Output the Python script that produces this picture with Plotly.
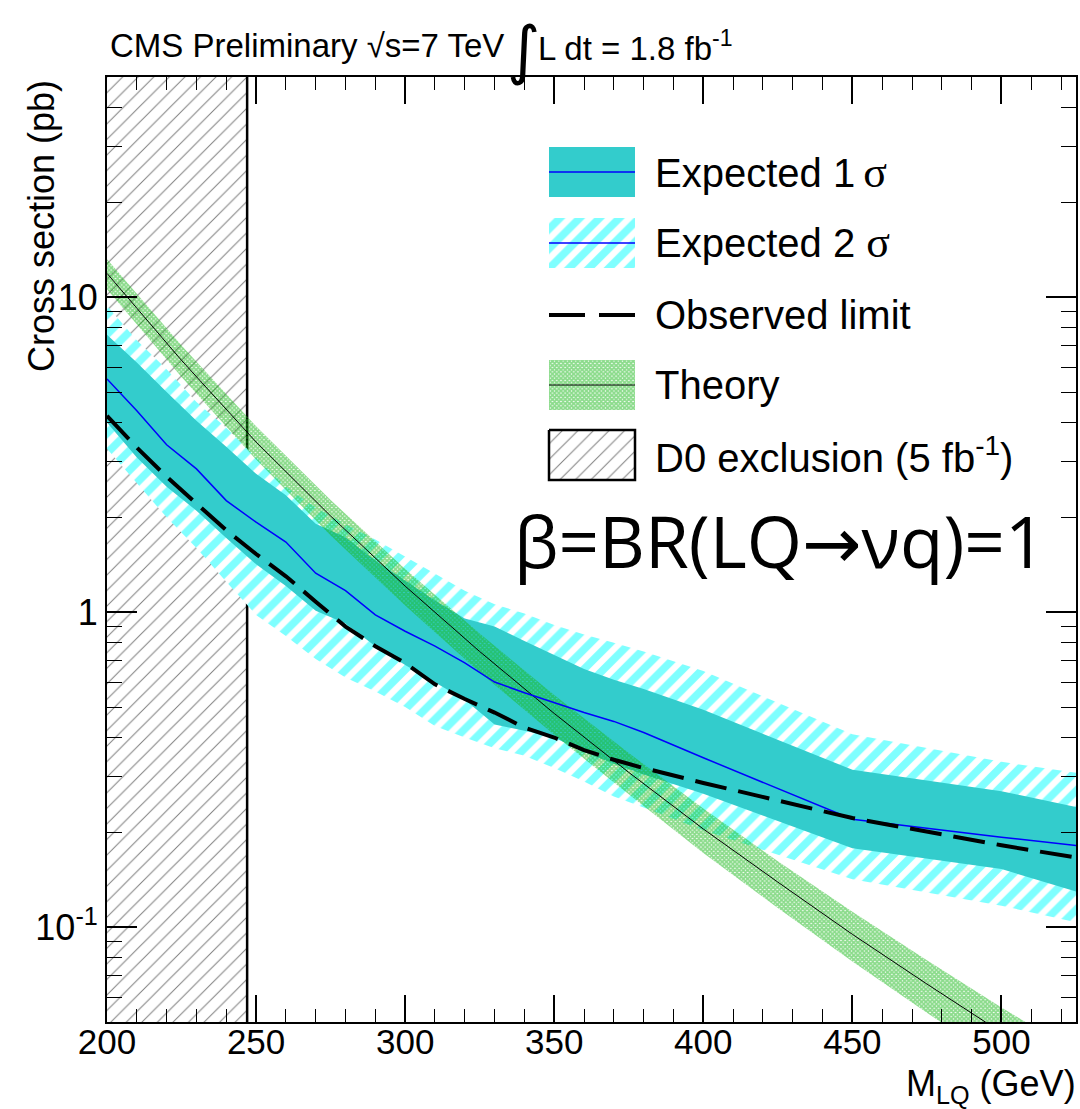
import plotly.graph_objects as go

# ---------------- data ----------------
mass_exp = [200, 210, 220, 230, 240, 250, 260, 270, 280, 290, 300, 310, 320, 330,
            340, 350, 360, 370, 380, 400, 450, 500, 550]
exp_median = [5.5, 4.36, 3.40, 2.85, 2.26, 1.93, 1.67, 1.33, 1.17, 0.98, 0.87, 0.78,
              0.69, 0.60, 0.555, 0.515, 0.48, 0.45, 0.415, 0.345, 0.22, 0.193, 0.171]
exp_1s_up = [7.6, 6.2, 5.0, 4.05, 3.35, 2.75, 2.35, 1.91, 1.73, 1.46, 1.26, 1.09,
             0.955, 0.90, 0.81, 0.73, 0.66, 0.61, 0.57, 0.49, 0.316, 0.27, 0.215]
exp_1s_dn = [4.0, 3.1, 2.5, 2.1, 1.72, 1.42, 1.21, 1.01, 0.92, 0.78, 0.68, 0.60,
             0.527, 0.44, 0.42, 0.40, 0.36, 0.33, 0.305, 0.265, 0.178, 0.153, 0.11]
exp_2s_up = [9.4, 7.3, 5.9, 4.65, 3.85, 3.1, 2.5, 2.15, 1.9, 1.7, 1.50, 1.32,
             1.17, 1.06, 0.99, 0.91, 0.85, 0.80, 0.75, 0.65, 0.41, 0.335, 0.285]
exp_2s_dn = [3.3, 2.57, 2.0, 1.6, 1.25, 0.98, 0.84, 0.71, 0.62, 0.56, 0.50, 0.435,
             0.40, 0.37, 0.35, 0.32, 0.29, 0.26, 0.24, 0.203, 0.142, 0.117, 0.092]
observed = [4.2, 3.33, 2.69, 2.21, 1.82, 1.53, 1.30, 1.08, 0.90, 0.78, 0.69, 0.59,
            0.53, 0.48, 0.43, 0.40, 0.365, 0.34, 0.32, 0.287, 0.222, 0.182, 0.152]

mass_th = [200, 225, 250, 275, 300, 325, 350, 375, 400, 425, 450, 475, 500, 525, 550]
theory = [11.9, 6.3, 3.47, 2.02, 1.21, 0.75, 0.477, 0.31, 0.205, 0.139, 0.0949,
          0.066, 0.0463, 0.033, 0.0236]
theory_up = [13.2, 7.02, 3.89, 2.27, 1.37, 0.855, 0.546, 0.357, 0.238, 0.162, 0.112,
             0.0785, 0.0556, 0.040, 0.0288]
theory_dn = [10.6, 5.58, 3.05, 1.75, 1.05, 0.645, 0.408, 0.264, 0.172, 0.115, 0.0778,
             0.0535, 0.037, 0.026, 0.0184]

d0_limit = 247          # D0 exclusion up to this mass (GeV)
x_range = [200, 525]
y_range = [0.05, 50]
y_tickvals = [0.1, 1, 10]
y_ticktext = ["10<sup>-1</sup>", "1", "10"]
SIG = '<span style="font-family:Liberation Serif;font-size:44px">\u03c3</span>'
legend_labels = ["Expected 1\u2009" + SIG, "Expected 2 " + SIG, "Observed limit",
                 "Theory", "D0 exclusion (5 fb<sup>-1</sup>)"]

# ---------------- styles ----------------
C_1S = "#33CCCC"
C_2S = "#00FFFF"
C_TH = "#18B818"
FONT = "Liberation Sans"
W, H = 1080, 1109
L, R, T, B = 107, 1076, 77, 1022      # plot frame in page pixels


def band(x, lo, hi):
    return list(x) + list(x)[::-1], list(hi) + list(lo)[::-1]


hatch_d0 = dict(shape="/", fgcolor="black", bgcolor="white", size=11, solidity=0.09)
hatch_2s = dict(shape="/", fgcolor=C_2S, bgcolor="white", size=14, solidity=0.55)
hatch_th = dict(shape="x", fgcolor=C_TH, bgcolor="rgba(0,0,0,0)", size=3, solidity=0.85)

fig = go.Figure()

# D0 excluded region
fig.add_trace(go.Scatter(
    x=[x_range[0] - 10, d0_limit, d0_limit, x_range[0] - 10, x_range[0] - 10],
    y=[1e-3, 1e-3, 1e3, 1e3, 1e-3], mode="lines", fill="toself",
    fillpattern=hatch_d0, fillcolor="white", line=dict(color="black", width=2.5),
    hoverinfo="skip", showlegend=False))

# Expected 2 sigma
bx, by = band(mass_exp, exp_2s_dn, exp_2s_up)
fig.add_trace(go.Scatter(x=bx, y=by, mode="lines", fill="toself", fillpattern=hatch_2s,
                         fillcolor="white", line=dict(width=0), hoverinfo="skip",
                         showlegend=False))
# Expected 1 sigma
bx, by = band(mass_exp, exp_1s_dn, exp_1s_up)
fig.add_trace(go.Scatter(x=bx, y=by, mode="lines", fill="toself", fillcolor=C_1S,
                         line=dict(width=0), hoverinfo="skip", showlegend=False))
# Theory band
bx, by = band(mass_th, theory_dn, theory_up)
fig.add_trace(go.Scatter(x=bx, y=by, mode="lines", fill="toself", fillpattern=hatch_th,
                         fillcolor="rgba(0,0,0,0)", line=dict(width=0),
                         hoverinfo="skip", showlegend=False))
# Theory central
fig.add_trace(go.Scatter(x=mass_th, y=theory, mode="lines",
                         line=dict(color="black", width=1), showlegend=False))
# Expected median
fig.add_trace(go.Scatter(x=mass_exp, y=exp_median, mode="lines",
                         line=dict(color="#0000FF", width=1.5), showlegend=False))
# Observed
fig.add_trace(go.Scatter(x=mass_exp, y=observed, mode="lines",
                         line=dict(color="black", width=4, dash="32px,12px"),
                         showlegend=False))

# ---------------- hand-made legend (page pixel coordinates) ----------------
def px(x):
    return x - L


def py(y):
    return y - T


def pxp(x):      # page px -> paper
    return (x - L) / (R - L)


def pyp(y):
    return (B - y) / (B - T)


sw_x0, sw_x1 = 549, 635
rows = [172, 243, 315, 385, 455]
half = 25


def swatch(yc, **kw):
    fig.add_trace(go.Scatter(
        x=[px(sw_x0), px(sw_x1), px(sw_x1), px(sw_x0), px(sw_x0)],
        y=[py(yc - half), py(yc - half), py(yc + half), py(yc + half), py(yc - half)],
        xaxis="x2", yaxis="y2", mode="lines", fill="toself", hoverinfo="skip",
        showlegend=False, **kw))


def hline(yc, **kw):
    fig.add_trace(go.Scatter(x=[px(sw_x0), px(sw_x1)], y=[py(yc), py(yc)],
                             xaxis="x2", yaxis="y2", mode="lines", hoverinfo="skip",
                             showlegend=False, **kw))


swatch(rows[0], fillcolor=C_1S, line=dict(width=0))
hline(rows[0], line=dict(color="#0000FF", width=1.5))
swatch(rows[1], fillpattern=hatch_2s, fillcolor="white", line=dict(width=0))
hline(rows[1], line=dict(color="#0000FF", width=1.5))
hline(rows[2], line=dict(color="black", width=4, dash="36px,14px"))
swatch(rows[3], fillpattern=hatch_th, fillcolor="rgba(0,0,0,0)", line=dict(width=0))
hline(rows[3], line=dict(color="black", width=1))
swatch(rows[4], fillpattern=hatch_d0, fillcolor="white",
       line=dict(color="black", width=2.5))

ann = []
for lab, yc in zip(legend_labels, rows):
    ann.append(dict(x=pxp(653), y=pyp(yc), xref="paper", yref="paper", text=lab,
                    showarrow=False, xanchor="left", yanchor="middle",
                    font=dict(family=FONT, size=40, color="black")))

ann.append(dict(x=pxp(512), y=pyp(540), xref="paper", yref="paper",
                text='\u03b2=BR(LQ<span style="font-family:DejaVu Sans">\u2192</span>\u03bdq)=1',
                showarrow=False, xanchor="left", yanchor="middle",
                font=dict(family="Open Sans", size=71, color="black")))

# header
ann.append(dict(x=pxp(108), y=pyp(46), xref="paper", yref="paper",
                text="CMS Preliminary \u221as=7 TeV", showarrow=False,
                xanchor="left", yanchor="middle",
                font=dict(family=FONT, size=33, color="black")))
ann.append(dict(x=pxp(523), y=pyp(50), xref="paper", yref="paper", text="\u222b",
                showarrow=False, xanchor="center", yanchor="middle",
                font=dict(family="DejaVu Sans", size=64, color="black")))
ann.append(dict(x=pxp(536), y=pyp(46), xref="paper", yref="paper",
                text="L dt = 1.8 fb<sup>-1</sup>", showarrow=False,
                xanchor="left", yanchor="middle",
                font=dict(family=FONT, size=33, color="black")))
# axis titles
ann.append(dict(x=pxp(1078), y=pyp(1086), xref="paper", yref="paper",
                text="M<sub>LQ</sub> (GeV)", showarrow=False,
                xanchor="right", yanchor="middle",
                font=dict(family=FONT, size=36, color="black")))
ann.append(dict(x=pxp(41), y=pyp(78), xref="paper", yref="paper",
                text="Cross section (pb)", showarrow=False, textangle=-90,
                xanchor="center", yanchor="top",
                font=dict(family=FONT, size=36, color="black")))

minor_y = [v * 10 ** k for k in (-2, -1, 0, 1) for v in range(2, 10)
           if y_range[0] <= v * 10 ** k <= y_range[1]]

fig.update_layout(
    width=W, height=H,
    margin=dict(l=L, r=W - R, t=T, b=H - B, pad=0, autoexpand=False),
    paper_bgcolor="white", plot_bgcolor="white",
    showlegend=False,
    annotations=ann,
    xaxis=dict(range=x_range, tick0=200, dtick=50, ticks="inside", ticklen=27,
               tickwidth=1.5, tickcolor="black", mirror="allticks", showline=True,
               linecolor="black", linewidth=2, showgrid=False, zeroline=False,
               automargin=False, ticklabelstandoff=-12,
               tickfont=dict(family=FONT, size=35, color="black"),
               minor=dict(dtick=10, tick0=200, ticks="inside", ticklen=13,
                          tickwidth=1.2, tickcolor="black", showgrid=False)),
    yaxis=dict(type="log", range=[-1.30103, 1.69897], tickvals=y_tickvals,
               ticktext=y_ticktext, ticks="inside", ticklen=30, tickwidth=1.5,
               tickcolor="black", mirror="allticks", showline=True, linecolor="black",
               linewidth=2, showgrid=False, zeroline=False, automargin=False,
               tickfont=dict(family=FONT, size=36, color="black"),
               minor=dict(tickvals=minor_y, ticks="inside", ticklen=15, tickwidth=1.2,
                          tickcolor="black", showgrid=False)),
    xaxis2=dict(overlaying="x", anchor="y2", range=[0, R - L], visible=False,
                fixedrange=True, automargin=False),
    yaxis2=dict(overlaying="y", anchor="x2", range=[B - T, 0], visible=False,
                fixedrange=True, automargin=False),
)

fig.write_html("out.html", config={"displayModeBar": False},
               post_script="document.body.style.margin='0px';"
                           "document.body.style.padding='0px';")
